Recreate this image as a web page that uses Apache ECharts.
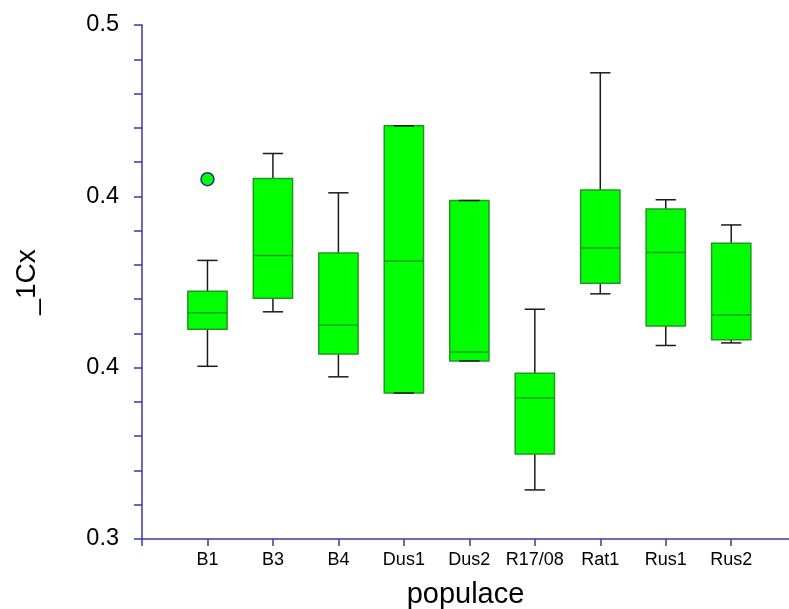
<!DOCTYPE html>
<html><head><meta charset="utf-8">
<script src="https://cdn.jsdelivr.net/npm/echarts@6/dist/echarts.min.js"></script>
<style>html,body{margin:0;padding:0;background:#fff}#c{width:789px;height:609px}</style>
</head><body><div id="c"></div>
<script>
const categories = ['B1','B3','B4','Dus1','Dus2','R17/08','Rat1','Rus1','Rus2'];
const mins    = [0.3672,0.3884,0.3631,0.3568,0.3693,0.3191,0.3954,0.3753,0.3763];
const q1s     = [0.3816,0.3937,0.3720,0.3568,0.3693,0.3331,0.3995,0.3829,0.3775];
const medians = [0.3880,0.4103,0.3833,0.4082,0.3728,0.3549,0.4132,0.4115,0.3872];
const q3s     = [0.3964,0.4403,0.4113,0.4608,0.4317,0.3645,0.4358,0.4284,0.4151];
const maxs    = [0.4084,0.4500,0.4347,0.4608,0.4317,0.3894,0.4814,0.4320,0.4222];
const outlierCats = ['B1'];
const outlierValues = [0.4400];
const yTickValues = [0.3, 0.3666667, 0.4333333, 0.5];
const yTickLabels = ['0.3','0.4','0.4','0.5'];
const xTitle = 'populace';
const yTitle = '_1Cx';

const FONT = 'Liberation Sans, Arial, sans-serif';
const AXIS_COLOR = '#3a3aa6';
const yMinorTicks = Array.from({length: 16}, (_, k) => 0.3 + k * 0.2 / 15);
const xTickVals = Array.from({length: categories.length + 1}, (_, k) => k);
const xLabelVals = categories.map((c, i) => i + 1);

const boxData = categories.map((c, i) => [i + 1, mins[i], q1s[i], medians[i], q3s[i], maxs[i]]);
const outlierData = outlierCats.map((c, i) => [categories.indexOf(c) + 1, outlierValues[i]]);

function renderBox(params, api) {
  const x = api.value(0);
  const pMin = api.coord([x, api.value(1)]);
  const pQ1 = api.coord([x, api.value(2)]);
  const pMed = api.coord([x, api.value(3)]);
  const pQ3 = api.coord([x, api.value(4)]);
  const pMax = api.coord([x, api.value(5)]);
  const unit = api.size([1, 0])[0];
  const hw = unit * 0.3;
  const cw = unit * 0.155;
  const cx = pMed[0];
  const boxStyle = {fill: '#00ff00', stroke: '#1f9a1f', lineWidth: 1.5};
  const wStyle = {stroke: '#1a1a1a', lineWidth: 1.5};
  return {type: 'group', children: [
    {type: 'line', shape: {x1: cx, y1: pQ3[1], x2: cx, y2: pMax[1]}, style: wStyle},
    {type: 'line', shape: {x1: cx, y1: pQ1[1], x2: cx, y2: pMin[1]}, style: wStyle},
    {type: 'rect', shape: {x: cx - hw, y: pQ3[1], width: 2 * hw, height: pQ1[1] - pQ3[1]}, style: boxStyle},
    {type: 'line', shape: {x1: cx - hw, y1: pMed[1], x2: cx + hw, y2: pMed[1]}, style: {stroke: '#1f9a1f', lineWidth: 1.5}},
    {type: 'line', shape: {x1: cx - cw, y1: pMax[1], x2: cx + cw, y2: pMax[1]}, style: wStyle},
    {type: 'line', shape: {x1: cx - cw, y1: pMin[1], x2: cx + cw, y2: pMin[1]}, style: wStyle}
  ]};
}

const chart = echarts.init(document.getElementById('c'), null, {renderer: 'canvas'});
chart.setOption({
  animation: false,
  backgroundColor: '#ffffff',
  textStyle: {fontFamily: FONT},
  grid: {left: 142, right: 0, top: 25, bottom: 70, containLabel: false, outerBoundsMode: 'none'},
  xAxis: {
    type: 'value', min: 0, max: (789 - 142) / 65.47,
    axisLine: {show: true, onZero: false, lineStyle: {color: AXIS_COLOR, width: 1.5}},
    axisTick: {show: true, customValues: xTickVals, length: 7, lineStyle: {color: AXIS_COLOR, width: 1.5}},
    axisLabel: {show: true, customValues: xLabelVals, margin: 12, fontSize: 18, color: '#000', fontFamily: FONT,
      formatter: v => categories[Math.round(v) - 1] || ''},
    splitLine: {show: false},
    name: xTitle, nameLocation: 'middle', nameGap: 41,
    nameTextStyle: {fontSize: 29, color: '#000', fontFamily: FONT}
  },
  yAxis: {
    type: 'value', min: 0.3, max: 0.5,
    axisLine: {show: true, onZero: false, lineStyle: {color: AXIS_COLOR, width: 1.5}},
    axisTick: {show: true, customValues: yMinorTicks, length: 8, lineStyle: {color: AXIS_COLOR, width: 1.5}},
    axisLabel: {show: true, customValues: yTickValues, margin: 23, fontSize: 23.5, color: '#000', fontFamily: FONT,
      formatter: v => { const i = yTickValues.findIndex(t => Math.abs(t - v) < 1e-4); return i >= 0 ? yTickLabels[i] : ''; }},
    splitLine: {show: false},
    name: yTitle, nameLocation: 'middle', nameRotate: 90, nameGap: 101,
    nameTextStyle: {fontSize: 28, color: '#000', fontFamily: FONT}
  },
  series: [
    {type: 'custom', renderItem: renderBox, data: boxData, encode: {x: 0, y: [1, 2, 3, 4, 5]}, clip: false},
    {type: 'scatter', data: outlierData, symbol: 'circle', symbolSize: 13,
      itemStyle: {color: '#00ff00', borderColor: '#2a2a9a', borderWidth: 1.5, opacity: 1}}
  ]
});
</script></body></html>
